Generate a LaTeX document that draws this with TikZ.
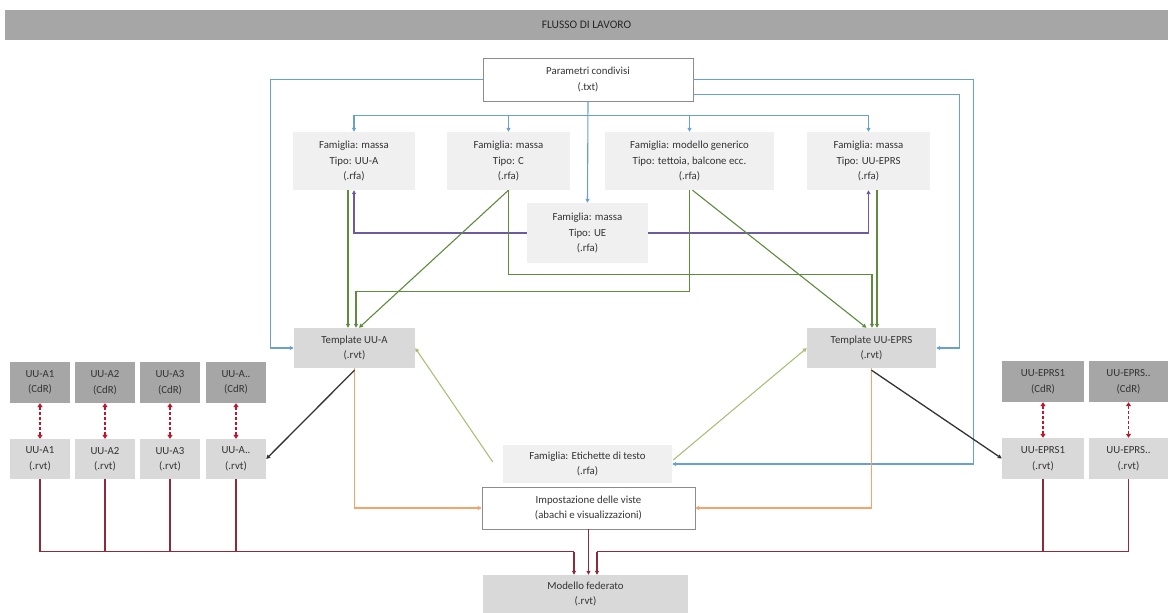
\documentclass[tikz,border=0pt]{standalone}
\usepackage{fontspec}
\setmainfont{Carlito}
\usetikzlibrary{arrows.meta,calc}
\definecolor{txt}{HTML}{333333}
\definecolor{titlebar}{HTML}{A6A6A6}
\definecolor{dark}{HTML}{A6A6A6}
\definecolor{mid}{HTML}{D9D9D9}
\definecolor{lite}{HTML}{F0F0F0}
\definecolor{bordo}{HTML}{8C8C8C}
\definecolor{cblue}{HTML}{6A9FD4}
\definecolor{cgreen}{HTML}{5E8B3E}
\definecolor{clgreen}{HTML}{A8C07A}
\definecolor{cpurple}{HTML}{6D5B9E}
\definecolor{corange}{HTML}{F4A36A}
\definecolor{cmaroon}{HTML}{8A2C3C}
\definecolor{cred}{HTML}{C0142B}
\begin{document}
\begin{tikzpicture}[x=1pt,y=-1pt,
  box/.style={inner sep=0pt, align=center, font=\fontsize{10.8}{15.5}\selectfont, text=txt},
  tip/.style={-{Triangle[length=4pt,width=4pt]}},
  blueline/.style={draw=cblue, line width=1.1pt, tip},
  greenline/.style={draw=cgreen, line width=1.1pt, tip},
  lgreenline/.style={draw=clgreen, line width=1.1pt, tip},
  purpleline/.style={draw=cpurple, line width=1.1pt, tip},
  orangeline/.style={draw=corange, line width=1.1pt, tip},
  blackline/.style={draw=black!80, line width=1.3pt, tip},
  maroonline/.style={draw=cmaroon, line width=1.1pt},
  reddash/.style={draw=cred, line width=1.4pt, dashed, dash pattern=on 3pt off 2pt,
     {Triangle[length=4pt,width=5pt]}-{Triangle[length=4pt,width=5pt]}}
]
\useasboundingbox (0,0) rectangle (1168,613);

% title
\node[box, fill=titlebar, minimum width=1163pt, minimum height=30pt, text=black!85, font=\fontsize{11.5}{14}\selectfont] (title) at (586.5,25) {FLUSSO DI LAVORO};

% top
\node[box, draw=bordo, fill=white, minimum width=210pt, minimum height=43pt] (par) at (588,79.5) {Parametri condivisi\\(.txt)};

\node[box, fill=lite, minimum width=122pt, minimum height=58pt] (fA) at (354,161) {Famiglia: massa\\Tipo: UU-A\\(.rfa)};
\node[box, fill=lite, minimum width=123pt, minimum height=58pt] (fC) at (508.5,161) {Famiglia: massa\\Tipo: C\\(.rfa)};
\node[box, fill=lite, minimum width=169pt, minimum height=58pt] (fG) at (689.5,161) {Famiglia: modello generico\\Tipo: tettoia, balcone ecc.\\(.rfa)};
\node[box, fill=lite, minimum width=123pt, minimum height=58pt] (fE) at (868.5,161) {Famiglia: massa\\Tipo: UU-EPRS\\(.rfa)};
\node[box, fill=lite, minimum width=121pt, minimum height=60pt] (fUE) at (587.5,233) {Famiglia: massa\\Tipo: UE\\(.rfa)};

\node[box, fill=mid, minimum width=121pt, minimum height=40pt] (tA) at (354.5,348) {Template UU-A\\(.rvt)};
\node[box, fill=mid, minimum width=129pt, minimum height=40pt] (tE) at (871.5,348) {Template UU-EPRS\\(.rvt)};

\node[box, fill=lite, minimum width=169pt, minimum height=38pt] (ety) at (587.5,464) {Famiglia: Etichette di testo\\(.rfa)};
\node[box, draw=bordo, fill=white, minimum width=213pt, minimum height=42pt] (imp) at (588.5,508) {Impostazione delle viste\\(abachi e visualizzazioni)};
\node[box, fill=mid, minimum width=205pt, minimum height=38pt] (mod) at (585.5,594) {Modello federato\\(.rvt)};

% left column boxes
\node[box, fill=dark, minimum width=60pt, minimum height=41pt] (lc1) at (40,382.5) {UU-A1\\(CdR)};
\node[box, fill=dark, minimum width=60pt, minimum height=41pt] (lc2) at (105,382.5) {UU-A2\\(CdR)};
\node[box, fill=dark, minimum width=60pt, minimum height=41pt] (lc3) at (170,382.5) {UU-A3\\(CdR)};
\node[box, fill=dark, minimum width=60pt, minimum height=41pt] (lc4) at (236,382.5) {UU-A..\\(CdR)};
\node[box, fill=mid, minimum width=60pt, minimum height=40pt] (lr1) at (40,459) {UU-A1\\(.rvt)};
\node[box, fill=mid, minimum width=60pt, minimum height=40pt] (lr2) at (105,459) {UU-A2\\(.rvt)};
\node[box, fill=mid, minimum width=60pt, minimum height=40pt] (lr3) at (170,459) {UU-A3\\(.rvt)};
\node[box, fill=mid, minimum width=60pt, minimum height=40pt] (lr4) at (236,459) {UU-A..\\(.rvt)};

% right boxes
\node[box, fill=dark, minimum width=82pt, minimum height=41pt] (rc1) at (1043,381.5) {UU-EPRS1\\(CdR)};
\node[box, fill=dark, minimum width=79pt, minimum height=41pt] (rc2) at (1128.5,381.5) {UU-EPRS..\\(CdR)};
\node[box, fill=mid, minimum width=82pt, minimum height=41pt] (rr1) at (1043,458.5) {UU-EPRS1\\(.rvt)};
\node[box, fill=mid, minimum width=79pt, minimum height=41pt] (rr2) at (1128.5,458.5) {UU-EPRS..\\(.rvt)};

% blue connectors
\draw[blueline] (par.west) -- ++(-212,0) |- (tA.west);
\draw[blueline] (par.east) -- ++(280,0) |- (ety.east);
\draw[blueline] ($(par.south east)+(0,-7)$) -- ++(266,0) |- (tE.east);
\coordinate (bus) at ($(par.south)+(0,14)$);
\draw[blueline] (par.south) -- (fUE.north);
\draw[draw=cblue, line width=1.1pt] (bus -| fA.north) -- (bus -| fE.north);
\draw[blueline] (bus -| fA.north) -- (fA.north);
\draw[blueline] (bus -| fC.north) -- (fC.north);
\draw[blueline] (bus -| fG.north) -- (fG.north);
\draw[blueline] (bus -| fE.north) -- (fE.north);

% purple
\draw[purpleline] (fUE.west) -| (fA.south);
\draw[purpleline] (fUE.east) -| (fE.south);

% green
\draw[greenline] ($(fA.south)+(-6,0)$) -- ($(tA.north)+(-6.5,0)$);
\draw[greenline] (fC.south) -- ($(tA.north)+(4.5,0)$);
\draw[greenline] (fC.south) -- ++(0,84) -| ($(tE.north)+(0.5,0)$);
\draw[greenline] (fG.south) -- ++(0,101) -| ($(tA.north)+(1.5,0)$);
\draw[greenline] ($(fG.south)+(3,0)$) -- ($(tE.north)+(-5,0)$);
\draw[greenline] ($(fE.south)+(8.5,0)$) -- ($(tE.north)+(5.5,0)$);

% light green
\draw[lgreenline] ($(ety.west)+(-10,-2)$) -- (tA.east);
\draw[lgreenline] ($(ety.east)+(1,-4)$) -- (tE.west);

% orange
\draw[orangeline] (tA.south) |- (imp.west);
\draw[orangeline] (tE.south) |- (imp.east);

% black
\draw[blackline] ($(tA.south)+(0,2)$) -- (lr4.east);
\draw[blackline] ($(tE.south)+(0,2)$) -- (rr1.west);

% red dashed
\foreach \i in {1,2,3,4} { \draw[reddash] (lc\i.south) -- (lr\i.north); }
\draw[reddash] (rc1.south) -- (rr1.north);
\draw[reddash] (rc2.south) -- (rr2.north);

% maroon
\coordinate (busL) at ($(mod.north)+(-11.5,-23)$);
\coordinate (busR) at ($(mod.north)+(11.5,-23)$);
\draw[maroonline] (lr1.south) |- (busL);
\draw[maroonline] (lr2.south) -- (lr2.south |- busL);
\draw[maroonline] (lr3.south) -- (lr3.south |- busL);
\draw[maroonline] (lr4.south) -- (lr4.south |- busL);
\draw[maroonline, tip] (busL) -- (busL |- mod.north);
\draw[maroonline] (rr2.south) |- (busR);
\draw[maroonline] (rr1.south) -- (rr1.south |- busR);
\draw[maroonline, tip] (busR) -- (busR |- mod.north);
\draw[maroonline, tip] (imp.south) -- (imp.south |- mod.north);
\end{tikzpicture}
\end{document}
